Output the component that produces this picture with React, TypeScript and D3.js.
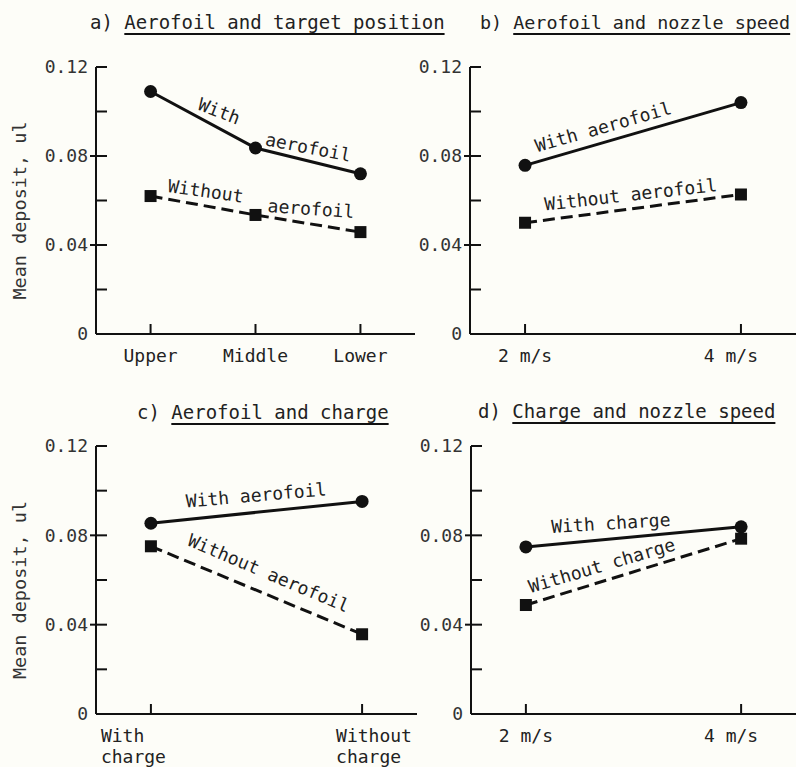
import React from 'react';
import * as d3 from 'd3';

// values (mean deposit, ul)
const positions = ['Upper', 'Middle', 'Lower'];
const withAerofoilPos = [0.109, 0.0836, 0.072];
const withoutAerofoilPos = [0.062, 0.0535, 0.0458];

const speeds = ['2 m/s', '4 m/s'];
const withAerofoilSpeed = [0.0758, 0.104];
const withoutAerofoilSpeed = [0.050, 0.0627];

const charges = ['With|charge', 'Without|charge'];
const withAerofoilCharge = [0.0854, 0.0952];
const withoutAerofoilCharge = [0.0751, 0.0357];

const withChargeSpeed = [0.0748, 0.0838];
const withoutChargeSpeed = [0.0488, 0.0785];

const yTicks = [0, 0.02, 0.04, 0.06, 0.08, 0.1, 0.12];
const yTickLabels = ['0', '', '0.04', '', '0.08', '', '0.12'];

const FONT = '"DejaVu Sans Mono", "Liberation Mono", monospace';
const INK = '#111';

type Label = { text: string; seg: number; t: number; dy: number; angle: number };
type Series = { values: number[]; dashed: boolean; labels: Label[] };

type PanelProps = {
  letter: string;
  title: string;
  cats: string[];
  series: Series[];
  left: number;
  right: number;
  bottom: number;
  top: number;
  padding: number;
  labelDx?: number[];
  labelAnchor?: string;
  yLabel?: boolean;
  titleX: number;
  titleY: number;
  titleSize?: number;
};

function Panel(p: PanelProps) {
  const x = d3.scalePoint<string>().domain(p.cats).range([p.left, p.right]).padding(p.padding);
  const y = d3.scaleLinear().domain([0, 0.12]).range([p.bottom, p.top]);
  const line = d3.line<number>()
    .x((d, i) => x(p.cats[i]) as number)
    .y(d => y(d));

  const fs = p.titleSize || 19;
  const prefix = p.letter + ') ';
  const charW = fs * 0.602;
  const ulStart = p.titleX + prefix.length * charW;
  const ulEnd = p.titleX + (prefix.length + p.title.length) * charW;

  return (
    <g>
      {/* title */}
      <text x={p.titleX} y={p.titleY} fontFamily={FONT} fontSize={fs} fill="#222" xmlSpace="preserve">
        {prefix + p.title}
      </text>
      <line x1={ulStart} x2={ulEnd} y1={p.titleY + 5} y2={p.titleY + 5} stroke={INK} strokeWidth={2} />

      {p.yLabel && (
        <text transform={`translate(26,${(p.top + p.bottom) / 2 + 10}) rotate(-90)`} textAnchor="middle"
          fontFamily={FONT} fontSize={18.5} fill="#333">Mean deposit, ul</text>
      )}

      {/* axes */}
      <line x1={p.left} x2={p.left} y1={y(0)} y2={y(0.12)} stroke={INK} strokeWidth={2} />
      <line x1={p.left} x2={p.right} y1={y(0)} y2={y(0)} stroke={INK} strokeWidth={2} />
      {yTicks.map((v, i) => (
        v === 0 ? null : (
          <line key={'yt' + i} x1={yTickLabels[i] && v !== 0.12 ? p.left - 6 : p.left} x2={p.left + 11}
            y1={y(v)} y2={y(v)} stroke={INK} strokeWidth={2} />
        )
      ))}
      {yTicks.map((v, i) => (
        yTickLabels[i] ? (
          <text key={'yl' + i} x={p.left - 8} y={y(v)} dy="0.36em" textAnchor="end"
            fontFamily={FONT} fontSize={18} fill="#333">{yTickLabels[i]}</text>
        ) : null
      ))}
      {p.cats.map((c, i) => (
        <line key={'xt' + i} x1={x(c)} x2={x(c)} y1={y(0)} y2={y(0) - 10} stroke={INK} strokeWidth={2} />
      ))}
      {p.cats.map((c, i) => {
        const parts = c.split('|');
        const dx = p.labelDx ? p.labelDx[i] : 0;
        return (
          <text key={'xl' + i} x={(x(c) as number) + dx} y={y(0) + 28} textAnchor={p.labelAnchor || 'middle'}
            fontFamily={FONT} fontSize={18} fill="#222">
            {parts.map((s, j) => (
              <tspan key={j} x={(x(c) as number) + dx} dy={j === 0 ? 0 : 21}>{s}</tspan>
            ))}
          </text>
        );
      })}

      {/* series */}
      {p.series.map((s, si) => (
        <g key={'s' + si}>
          <path d={line(s.values) || ''} fill="none" stroke={INK} strokeWidth={3}
            strokeDasharray={s.dashed ? '12,6' : undefined} />
          {s.values.map((v, i) => s.dashed ? (
            <rect key={i} x={(x(p.cats[i]) as number) - 6} y={y(v) - 6} width={12} height={12} fill={INK} />
          ) : (
            <circle key={i} cx={x(p.cats[i])} cy={y(v)} r={6.5} fill={INK} />
          ))}
          {s.labels.map((l, li) => {
            const x0 = x(p.cats[l.seg]) as number, x1 = x(p.cats[l.seg + 1]) as number;
            const y0 = y(s.values[l.seg]), y1 = y(s.values[l.seg + 1]);
            const lx = x0 + (x1 - x0) * l.t;
            const ly = y0 + (y1 - y0) * l.t + l.dy;
            return (
              <text key={'l' + li} transform={`translate(${lx},${ly}) rotate(${l.angle})`}
                fontFamily={FONT} fontSize={18} fill="#222" xmlSpace="preserve">{l.text}</text>
            );
          })}
        </g>
      ))}
    </g>
  );
}

export default function App() {
  return (
    <svg width={796} height={767} style={{ position: 'absolute', left: 0, top: 0, background: '#fdfdf8' }}>
      <Panel letter="a" title="Aerofoil and target position" cats={positions}
        left={96} right={415} bottom={334} top={67} padding={0.52} yLabel titleX={90} titleY={29}
        series={[
          { values: withAerofoilPos, dashed: false, labels: [
            { text: 'With', seg: 0, t: 0.44, dy: -7, angle: 21 },
            { text: 'aerofoil', seg: 1, t: 0.085, dy: -5, angle: 11 },
          ] },
          { values: withoutAerofoilPos, dashed: true, labels: [
            { text: 'Without', seg: 0, t: 0.16, dy: -7, angle: 8 },
            { text: 'aerofoil', seg: 1, t: 0.113, dy: -5, angle: 4 },
          ] },
        ]} />
      <Panel letter="b" title="Aerofoil and nozzle speed" cats={speeds}
        left={470} right={796} bottom={334} top={67} padding={0.255} titleX={480} titleY={29}
        titleSize={18.4} labelDx={[0, -10]}
        series={[
          { values: withAerofoilSpeed, dashed: false, labels: [
            { text: 'With aerofoil', seg: 0, t: 0.056, dy: -9.5, angle: -16 },
          ] },
          { values: withoutAerofoilSpeed, dashed: true, labels: [
            { text: 'Without aerofoil', seg: 0, t: 0.093, dy: -9.5, angle: -6.5 },
          ] },
        ]} />
      <Panel letter="c" title="Aerofoil and charge" cats={charges}
        left={96} right={417} bottom={714} top={446} padding={0.26} yLabel titleX={137} titleY={419}
        labelAnchor="start" labelDx={[-50, -26]}
        series={[
          { values: withAerofoilCharge, dashed: false, labels: [
            { text: 'With aerofoil', seg: 0, t: 0.168, dy: -12, angle: -5 },
          ] },
          { values: withoutAerofoilCharge, dashed: true, labels: [
            { text: 'Without aerofoil', seg: 0, t: 0.168, dy: -16, angle: 23 },
          ] },
        ]} />
      <Panel letter="d" title="Charge and nozzle speed" cats={speeds}
        left={471} right={796} bottom={714} top={446} padding={0.255} titleX={478} titleY={418}
        labelDx={[0, -10]}
        series={[
          { values: withChargeSpeed, dashed: false, labels: [
            { text: 'With charge', seg: 0, t: 0.12, dy: -11.5, angle: -3.5 },
          ] },
          { values: withoutChargeSpeed, dashed: true, labels: [
            { text: 'Without charge', seg: 0, t: 0.023, dy: -10.5, angle: -16.5 },
          ] },
        ]} />
    </svg>
  );
}
